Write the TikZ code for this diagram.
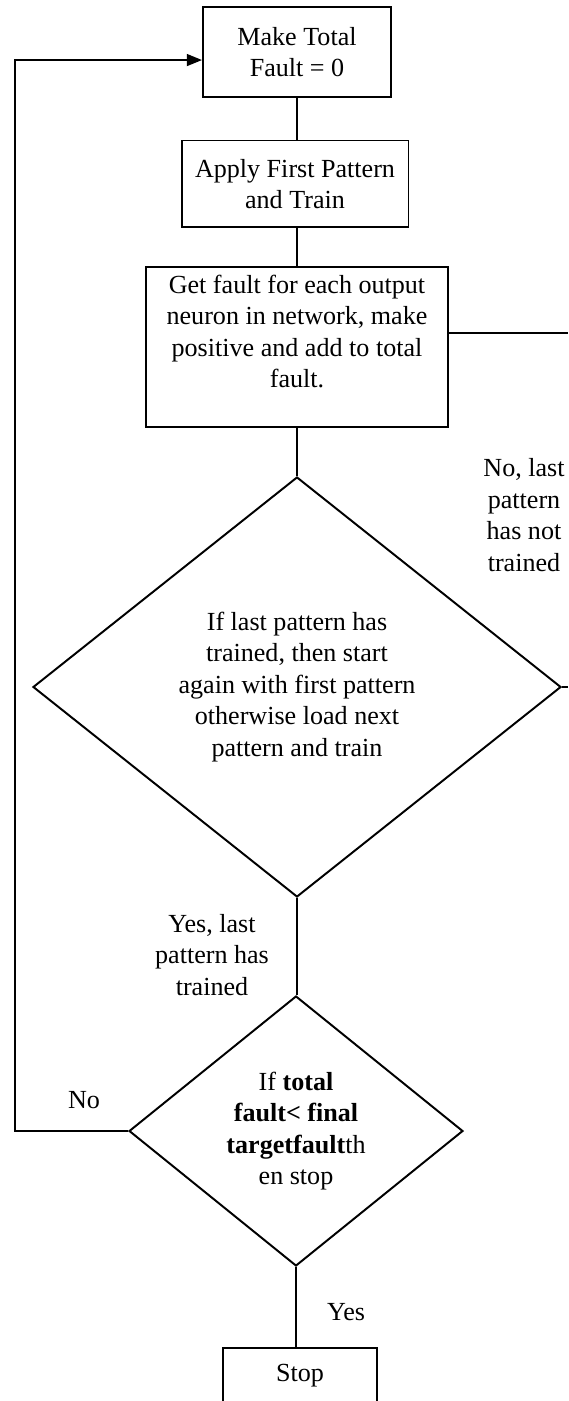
\documentclass[tikz,border=0pt]{standalone}
\usepackage{fontspec}
\setmainfont{Liberation Serif}
\usetikzlibrary{shapes.geometric,arrows.meta}

\tikzset{
  box/.style={draw,line width=0.9pt,align=center,inner sep=2pt},
  decision/.style={draw,diamond,line width=0.9pt,align=center,inner sep=0pt},
  link/.style={line width=0.8pt},
  note/.style={align=center}
}

\begin{document}
\begin{tikzpicture}[x=0.46pt,y=-0.46pt,font=\fontsize{12pt}{14.5pt}\selectfont]
\clip (0,0) rectangle (568,1401);

\node[box,minimum width=86.5pt,minimum height=41pt] (start) at (297,52) {Make Total\\Fault = 0};
\node[box,minimum width=104.4pt,minimum height=40pt] (apply) at (295,184) {Apply First Pattern\\and Train};
\node[box,minimum width=138.5pt,minimum height=73.6pt] (fault) at (297,347)
  {Get fault for each output\\neuron in network, make\\positive and add to total\\fault.\\ \mbox{}};

\node[decision,minimum width=242.9pt,minimum height=193.2pt] (check) at (297,687)
  {If last pattern has\\trained, then start\\again with first pattern\\otherwise load next\\pattern and train};
\node[decision,minimum width=153.6pt,minimum height=124.2pt] (goal) at (296,1131)
  {If \textbf{total}\\\textbf{fault< final}\\\textbf{targetfault}th\\en stop};

\node[box,minimum width=70.8pt,minimum height=25.8pt] (stop) at (300,1376) {Stop};

% labels
\node[note] (nolast) at (524,515) {No, last\\pattern\\has not\\trained};
\node[note] (yeslast) at (212,955) {Yes, last\\pattern has\\trained};
\node (no) at (84,1100) {No};
\node (yes) at (346,1312) {Yes};

% main flow
\draw[link] (start.south) -- (start.south |- apply.north);
\draw[link] (fault.north |- apply.south) -- (fault.north);
\draw[link] (fault.south) -- (check.north);
\draw[link] (check.south) -- (check.south |- goal.north);
\draw[link] (goal.south) -- (goal.south |- stop.north);

% branches
\coordinate (outA) at (568,333);
\coordinate (outB) at (568,687);
\coordinate (corner) at (15,1131);
\draw[link] (fault.east |- outA) -- (outA);
\draw[link] (check.east) -- (outB);
\draw[link,-{Triangle[length=7pt,width=5.5pt]}] (goal.west) -- (corner) |- ([yshift=-3.7pt]start.west);
\end{tikzpicture}
\end{document}
